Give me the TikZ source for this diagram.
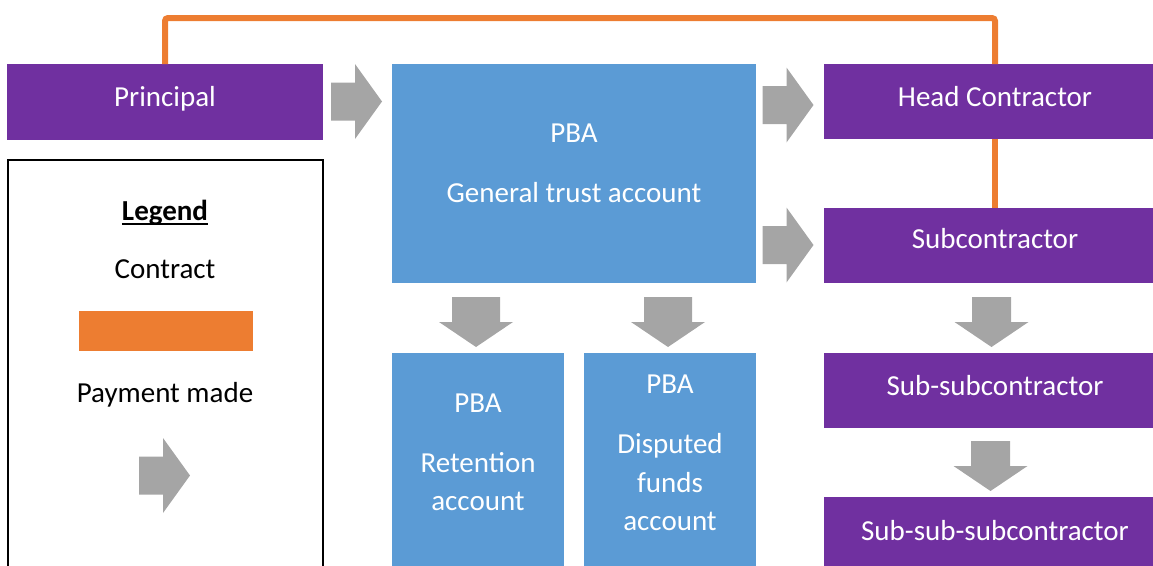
\documentclass[tikz,border=0pt]{standalone}
\usepackage{fontspec}
\setmainfont{Carlito}
\usetikzlibrary{calc}
\definecolor{boxpurple}{HTML}{7030A0}
\definecolor{boxblue}{HTML}{5B9BD5}
\definecolor{contractorange}{HTML}{ED7D31}
\definecolor{paygray}{HTML}{A5A5A5}
\begin{document}
\begin{tikzpicture}[x=1pt,y=-1pt,
  every node/.style={inner sep=0pt,outer sep=0pt},
  party/.style={fill=boxpurple,rectangle,anchor=north west},
  account/.style={fill=boxblue,rectangle,anchor=north west},
  boxtext/.style={text=white,font=\fontsize{29}{35}\selectfont,anchor=base},
  legtext/.style={text=black,font=\fontsize{29}{35}\selectfont,anchor=base},
  contract/.style={draw=contractorange,line width=6pt,rounded corners=3pt},
  pics/payright/.style={code={\fill[paygray] (-25.5,-19) -- (-1.5,-19) -- (-1.5,-37.5) -- (25.5,0) -- (-1.5,37.5) -- (-1.5,19) -- (-25.5,19) -- cycle;}},
  pics/paydown/.style={code={\fill[paygray] (-#1,-25) -- (#1,-25) -- (#1,0) -- (37,0) -- (0,25) -- (-37,0) -- (-#1,0) -- cycle;}},
]
\useasboundingbox (0,0) rectangle (1153,565);
\clip (0,0) rectangle (1153,565);

% parties
\node[party,minimum width=316pt,minimum height=76pt] (principal) at (7,64) {};
\node[party,minimum width=342pt,minimum height=75pt] (head) at (824,64) {};
\node[party,minimum width=342pt,minimum height=75pt] (sub) at (824,208) {};
\node[party,minimum width=342pt,minimum height=75pt] (subsub) at (824,353) {};
\node[party,minimum width=342pt,minimum height=75pt] (subsubsub) at (824,497) {};

% project bank accounts
\node[account,minimum width=364pt,minimum height=219pt] (pba) at (392,64) {};
\node[account,minimum width=172pt,minimum height=219pt] (ret) at (392,353) {};
\node[account,minimum width=172pt,minimum height=219pt] (disp) at (584,353) {};

% legend
\node[draw=black,line width=2pt,anchor=north west,minimum width=315pt,minimum height=440pt] (legend) at (8,160) {};
\node[fill=contractorange,anchor=north west,minimum width=174pt,minimum height=40pt] (swatch) at (79,311) {};

% contract lines
\coordinate (ctop) at (580,18);
\draw[contract] (principal.north) |- (ctop) -| (head.north);
\draw[contract] (head.south) -- (sub.north);

% payment arrows
\pic at (356.5,101.5) {payright};
\pic at (788,105) {payright};
\pic at (788,245) {payright};
\pic at (164.5,475.5) {payright};
\pic at (476,322) {paydown=24};
\pic at (668,322) {paydown=24};
\pic at (991.5,322) {paydown=19.5};
\pic at (990.5,466) {paydown=19.5};

% labels
\node[boxtext] (t-principal) at (165,106) {Principal};
\node[boxtext] (t-head) at (995,106) {Head Contractor};
\node[boxtext] (t-sub) at (995,248) {Subcontractor};
\node[boxtext] (t-subsub) at (995,395) {Sub-subcontractor};
\node[boxtext] (t-subsubsub) at (995,540) {Sub-sub-subcontractor};

\node[boxtext] (t-pba1) at (574,142) {PBA};
\node[boxtext] (t-pba2) at (574,202) {General trust account};

\node[boxtext] (t-ret1) at (478,412) {PBA};
\node[boxtext] (t-ret2) at (478,472) {Retention};
\node[boxtext] (t-ret3) at (478,510) {account};

\node[boxtext] (t-disp1) at (670,393) {PBA};
\node[boxtext] (t-disp2) at (670,453) {Disputed};
\node[boxtext] (t-disp3) at (670,492) {funds};
\node[boxtext] (t-disp4) at (670,530) {account};

\node[legtext,font=\fontsize{29}{35}\selectfont\bfseries] (t-legend) at (165,220) {Legend};
\draw[line width=1.5pt] ([yshift=-4pt]t-legend.base west) -- ([yshift=-4pt]t-legend.base east);
\node[legtext] (t-contract) at (165,278) {Contract};
\node[legtext] (t-payment) at (165,402) {Payment made};
\end{tikzpicture}
\end{document}
